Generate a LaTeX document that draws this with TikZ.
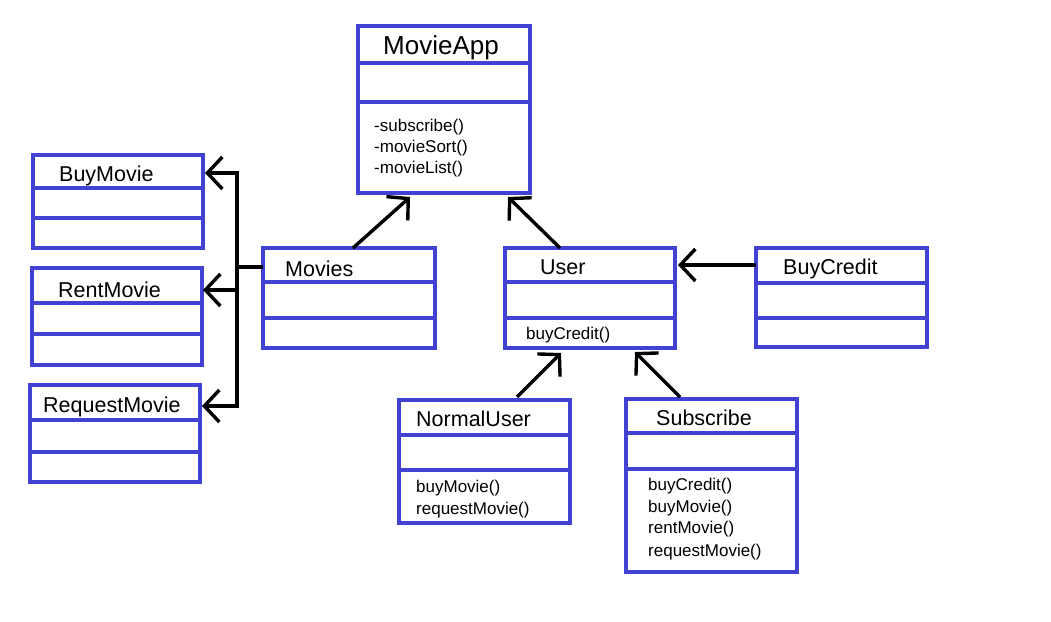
\documentclass[tikz,border=0pt]{standalone}
\usepackage{fontspec}
\setmainfont{Liberation Sans}
\usepackage{tikz}
\usetikzlibrary{arrows.meta}

\definecolor{umlblue}{RGB}{66,66,210}
\tikzset{
  classbox/.style={draw=umlblue, line width=3.4pt, rectangle, inner sep=0pt, outer sep=0pt, anchor=north west},
  divline/.style={draw=umlblue, line width=3.4pt},
  classname/.style={anchor=base west, inner sep=0pt, font=\fontsize{21.5}{24}\selectfont},
  method/.style={anchor=base west, inner sep=0pt, font=\fontsize{17}{20}\selectfont},
  inherit/.style={draw=black, line width=3.4pt, -{Straight Barb[length=15pt,width=32pt]}}
}

\begin{document}
\begin{tikzpicture}[x=1pt, y=-1pt]
    \useasboundingbox (0,0) rectangle (1051,621);

    % Define the classes
    \node[classbox, minimum width=172pt, minimum height=167pt] (app) at (358,26) {};
    \draw[divline] ([yshift=-37pt]app.north west) -- ([yshift=-37pt]app.north east);
    \draw[divline] ([yshift=-76pt]app.north west) -- ([yshift=-76pt]app.north east);
    \node[classname, font=\fontsize{26}{30}\selectfont] (appT) at (383,54) {MovieApp};
    \node[method] (appM1) at (374,131) {-subscribe()};
    \node[method] (appM2) at (374,152) {-movieSort()};
    \node[method] (appM3) at (374,173) {-movieList()};

    \node[classbox, minimum width=170pt, minimum height=93pt] (buy) at (33,155) {};
    \draw[divline] ([yshift=-33pt]buy.north west) -- ([yshift=-33pt]buy.north east);
    \draw[divline] ([yshift=-63pt]buy.north west) -- ([yshift=-63pt]buy.north east);
    \node[classname] (buyT) at (59,181) {BuyMovie};

    \node[classbox, minimum width=170pt, minimum height=97pt] (rent) at (32,268) {};
    \draw[divline] ([yshift=-35pt]rent.north west) -- ([yshift=-35pt]rent.north east);
    \draw[divline] ([yshift=-66pt]rent.north west) -- ([yshift=-66pt]rent.north east);
    \node[classname] (rentT) at (58,297) {RentMovie};

    \node[classbox, minimum width=170pt, minimum height=97pt] (request) at (30,385) {};
    \draw[divline] ([yshift=-35pt]request.north west) -- ([yshift=-35pt]request.north east);
    \draw[divline] ([yshift=-67pt]request.north west) -- ([yshift=-67pt]request.north east);
    \node[classname] (requestT) at (43,412) {RequestMovie};

    \node[classbox, minimum width=172pt, minimum height=100pt] (movies) at (263,248) {};
    \draw[divline] ([yshift=-34pt]movies.north west) -- ([yshift=-34pt]movies.north east);
    \draw[divline] ([yshift=-70pt]movies.north west) -- ([yshift=-70pt]movies.north east);
    \node[classname] (moviesT) at (285,276) {Movies};

    \node[classbox, minimum width=170pt, minimum height=100pt] (user) at (505,248) {};
    \draw[divline] ([yshift=-34pt]user.north west) -- ([yshift=-34pt]user.north east);
    \draw[divline] ([yshift=-70pt]user.north west) -- ([yshift=-70pt]user.north east);
    \node[classname] (userT) at (540,274) {User};
    \node[method] (userM1) at (526,339) {buyCredit()};

    \node[classbox, minimum width=171pt, minimum height=99pt] (credit) at (756,248) {};
    \draw[divline] ([yshift=-35pt]credit.north west) -- ([yshift=-35pt]credit.north east);
    \draw[divline] ([yshift=-70pt]credit.north west) -- ([yshift=-70pt]credit.north east);
    \node[classname] (creditT) at (783,274) {BuyCredit};

    \node[classbox, minimum width=171pt, minimum height=123pt] (normal) at (399,400) {};
    \draw[divline] ([yshift=-35pt]normal.north west) -- ([yshift=-35pt]normal.north east);
    \draw[divline] ([yshift=-70pt]normal.north west) -- ([yshift=-70pt]normal.north east);
    \node[classname] (normalT) at (416,426) {NormalUser};
    \node[method] (normalM1) at (416,492) {buyMovie()};
    \node[method] (normalM2) at (416,514) {requestMovie()};

    \node[classbox, minimum width=171pt, minimum height=173pt] (sub) at (626,399) {};
    \draw[divline] ([yshift=-34pt]sub.north west) -- ([yshift=-34pt]sub.north east);
    \draw[divline] ([yshift=-70pt]sub.north west) -- ([yshift=-70pt]sub.north east);
    \node[classname] (subT) at (656,425) {Subscribe};
    \node[method] (subM1) at (648,490) {buyCredit()};
    \node[method] (subM2) at (648,512) {buyMovie()};
    \node[method] (subM3) at (648,533) {rentMovie()};
    \node[method] (subM4) at (648,556) {requestMovie()};

    % Define the connectors
    \draw[inherit] ([xshift=90pt]movies.north west) -- ([xshift=52pt,yshift=-4pt]app.south west);
    \draw[inherit] ([xshift=55pt]user.north west) -- ([xshift=150pt,yshift=-4pt]app.south west);
    \draw[inherit] ([yshift=-17pt]credit.north west) -- ([xshift=3pt,yshift=-17pt]user.north east);
    \draw[inherit] ([xshift=118pt,yshift=3pt]normal.north west) -- ([xshift=56pt,yshift=-5pt]user.south west);
    \draw[inherit] ([xshift=54pt,yshift=2pt]sub.north west) -- ([xshift=130pt,yshift=-4pt]user.south west);

    \coordinate (fork) at ([xshift=-26pt,yshift=-19pt]movies.north west);
    \draw[inherit] ([yshift=-19pt]movies.north west) -- (fork) |- ([xshift=2pt,yshift=-18pt]buy.north east);
    \draw[inherit] (fork) |- ([xshift=1pt,yshift=-22pt]rent.north east);
    \draw[inherit] (fork) |- ([xshift=2pt,yshift=-21pt]request.north east);

\end{tikzpicture}
\end{document}
